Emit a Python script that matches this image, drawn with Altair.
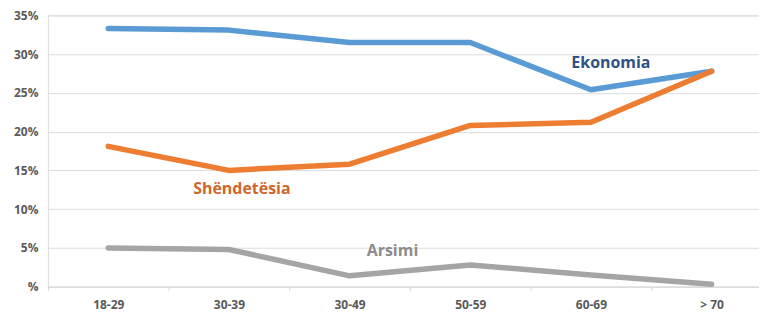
import altair as alt
import pandas as pd

categories = ["18-29", "30-39", "30-49", "50-59", "60-69", "> 70"]
ekonomia = [33.3, 33.1, 31.5, 31.5, 25.4, 27.8]
shendetesia = [18.1, 15.0, 15.8, 20.8, 21.2, 27.8]
arsimi = [5.0, 4.8, 1.4, 2.8, 1.5, 0.3]

series_names = ["Ekonomia", "Shëndetësia", "Arsimi"]
series_colors = ["#5b9bd5", "#ed7d31", "#a5a5a5"]
label_colors = ["#2f5286", "#d0672a", "#8c8c8c"]

rows = []
for name, vals in zip(series_names, [ekonomia, shendetesia, arsimi]):
    for c, v in zip(categories, vals):
        rows.append({"cat": c, "value": v, "series": name})
df = pd.DataFrame(rows)

labels = pd.DataFrame({
    "series": series_names,
    "cat": ["60-69", "30-39", "30-49"],
    "value": [28.9, 12.6, 4.6],
    "dx": [20, 13, 43],
})

xscale = alt.Scale(type="band", domain=categories, paddingInner=0, paddingOuter=0, range=[0, 726])
yscale = alt.Scale(domain=[0, 35], nice=False)
color = alt.Color("series:N", scale=alt.Scale(domain=series_names, range=series_colors), legend=None)

xaxis = alt.Axis(title=None, labelAngle=0, tickBand="extent", grid=False,
                 domainColor="#d9d9d9", tickColor="#d9d9d9", tickSize=4,
                 labelColor="#595959", labelFont="Open Sans",
                 labelFontWeight="bold", labelFontSize=12, labelPadding=9)
yaxis = alt.Axis(title=None, values=[0, 5, 10, 15, 20, 25, 30, 35],
                 labelExpr="datum.value == 0 ? '%' : datum.value + '%'",
                 labelOverlap=False,
                 domain=False, ticks=False, gridColor="#dcdcdc", gridWidth=1,
                 labelColor="#595959", labelFont="Open Sans",
                 labelFontWeight="bold", labelFontSize=12, labelPadding=10)

lines = alt.Chart(df).mark_line(strokeWidth=5.5, strokeJoin="round", strokeCap="round").encode(
    x=alt.X("cat:N", scale=xscale, sort=categories, bandPosition=0.5, axis=xaxis),
    y=alt.Y("value:Q", scale=yscale, axis=yaxis),
    color=color,
    detail="series:N",
)

texts = []
for i, name in enumerate(series_names):
    sub = labels[labels["series"] == name]
    t = alt.Chart(sub).mark_text(fontSize=16, fontWeight="bold", font="Open Sans",
                                 color=label_colors[i], dx=int(sub["dx"].iloc[0])).encode(
        x=alt.X("cat:N", scale=xscale, sort=categories, bandPosition=0.5, axis=xaxis),
        y=alt.Y("value:Q", scale=yscale, axis=yaxis),
        text="series:N",
    )
    texts.append(t)

chart = alt.layer(lines, *texts).properties(
    width=713, height=272,
    padding={"left": 40, "top": 7, "right": 0, "bottom": 25},
    autosize=alt.AutoSizeParams(type="none"),
).configure_view(strokeWidth=0).configure(background="white")

chart.save("out.html", embed_options={"renderer": "svg", "actions": False})
